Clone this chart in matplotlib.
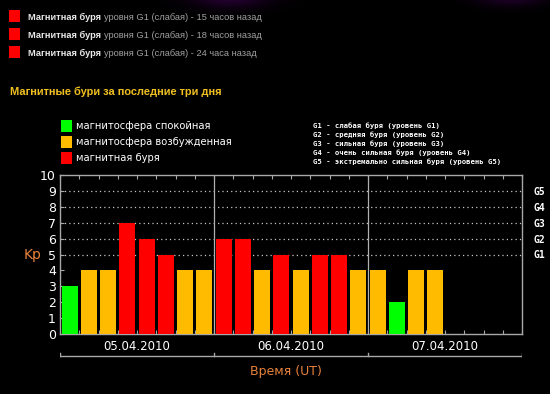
import numpy as np
import matplotlib
matplotlib.use('Agg')
import matplotlib.pyplot as plt
from matplotlib.patches import Rectangle

# Kp index, 8 three-hour intervals per day
kp_values = [3, 4, 4, 7, 6, 5, 4, 4,
             6, 6, 4, 5, 4, 5, 5, 4,
             4, 2, 4, 4]
days = ['05.04.2010', '06.04.2010', '07.04.2010']
g_labels = ['G1', 'G2', 'G3', 'G4', 'G5']
g_levels = [5, 6, 7, 8, 9]
storm_notes = ['15 часов назад', '18 часов назад', '24 часа назад']
legend_items = ['магнитосфера спокойная', 'магнитосфера возбужденная', 'магнитная буря']
g_legend = ['G1 - слабая буря (уровень G1)',
            'G2 - средняя буря (уровень G2)',
            'G3 - сильная буря (уровень G3)',
            'G4 - очень сильная буря (уровень G4)',
            'G5 - экстремально сильная буря (уровень G5)']

GREEN, ORANGE, RED = '#00ff00', '#ffbb00', '#ff0000'
W, H = 550, 394

def kp_color(v):
    if v < 4:
        return GREEN
    if v < 5:
        return ORANGE
    return RED

fig = plt.figure(figsize=(W / 100, H / 100), dpi=100, facecolor='black')
renderer = fig.canvas.get_renderer()

def px(x, y):
    # pixel coords (top-left origin) -> figure fraction
    return x / W, 1 - y / H

# faint purple glow at the top
glow = fig.add_axes([0, 0, 1, 1], zorder=-5)
glow.set_axis_off()
yy, xx = np.mgrid[0:H, 0:W]
g = np.exp(-(((xx - 230) / 40.0) ** 2 + ((yy + 5) / 12.0) ** 2)) * 0.35
g += np.exp(-(((xx - 510) / 35.0) ** 2 + ((yy + 5) / 10.0) ** 2)) * 0.3
img = np.zeros((H, W, 3))
img[..., 0] = g * 0.45
img[..., 2] = g * 0.6
glow.imshow(img, extent=(0, 1, 0, 1), aspect='auto')
glow.set_xlim(0, 1)
glow.set_ylim(0, 1)

# recent storm notices
for i, note in enumerate(storm_notes):
    y = 16 + i * 18
    x0, y0 = px(9, y + 6)
    fig.patches.append(Rectangle((x0, y0), 11 / W, 12 / H, transform=fig.transFigure,
                                 facecolor=RED, edgecolor='none'))
    t = fig.text(*px(28, y + 1), 'Магнитная буря', color='#e8e8e8', fontsize=6.7,
                 fontweight='bold', va='center', family='Liberation Sans')
    x_end = t.get_window_extent(renderer).x1
    fig.text(x_end / W + 3 / W, 1 - (y + 1) / H, 'уровня G1 (слабая) - ' + note,
             color='#a0a0a0', fontsize=6.7, va='center', family='Liberation Sans')

fig.text(*px(10, 92), 'Магнитные бури за последние три дня', color='#f0c020',
         fontsize=7.9, fontweight='bold', va='center', family='Liberation Sans')

# colour legend
for i, (lbl, c) in enumerate(zip(legend_items, [GREEN, ORANGE, RED])):
    y = 126 + i * 16
    x0, y0 = px(61, y + 6)
    fig.patches.append(Rectangle((x0, y0), 11 / W, 12 / H, transform=fig.transFigure,
                                 facecolor=c, edgecolor='none'))
    fig.text(*px(76, y), lbl, color='white', fontsize=7.2, va='center',
             family='DejaVu Sans')

for i, lbl in enumerate(g_legend):
    fig.text(*px(313, 126 + i * 9), lbl, color='white', fontsize=5.2, va='center',
             family='DejaVu Sans Mono', fontweight='bold')

# main chart
l, b = px(60, 334)
ax = fig.add_axes([l, b, 462 / W, 159 / H])
ax.set_facecolor('black')
n = 24
x = np.arange(len(kp_values))
ax.bar(x + 0.5, kp_values, width=0.84, color=[kp_color(v) for v in kp_values],
       zorder=3)
ax.set_xlim(0, n)
ax.set_ylim(0, 10)
for lvl in g_levels:
    ax.axhline(lvl, color='#c8c8c8', lw=0.9, ls=(0, (1, 2.5)), zorder=1)
for d in [8, 16]:
    ax.axvline(d, color='#b0b0b0', lw=0.9, zorder=2)

for s in ax.spines.values():
    s.set_color('#a8a8a8')
    s.set_linewidth(1.0)
ax.set_yticks(range(11))
ax.set_yticklabels([str(i) for i in range(11)])
ax.tick_params(axis='y', left=False, right=True, direction='in', length=3,
               labelsize=9, labelcolor='white', color='#a8a8a8', pad=3)
ax.set_xticks(range(n + 1))
ax.tick_params(axis='x', top=True, bottom=True, direction='in', length=3,
               labelbottom=False, color='#a8a8a8')
for lbl in ax.get_yticklabels():
    lbl.set_family('DejaVu Sans')

ay = ax.twinx()
ay.set_ylim(0, 10)
ay.set_yticks(g_levels)
ay.set_yticklabels(g_labels)
ay.tick_params(axis='y', right=False, labelsize=7, labelcolor='white', pad=5)
for lbl in ay.get_yticklabels():
    lbl.set_family('DejaVu Sans Mono')
    lbl.set_fontweight('bold')
for s in ay.spines.values():
    s.set_visible(False)

fig.text(*px(33, 255), 'Kp', color='#e8823a', fontsize=10, ha='center', va='center')

# day labels and bracket
for i, d in enumerate(days):
    fig.text(*px(60 + 154 * (i + 0.5), 346), d, color='white', fontsize=8.5,
             ha='center', va='center')
br = fig.add_axes([l, 0, 462 / W, 1], zorder=-1)
br.set_axis_off()
br.set_xlim(0, 3)
br.set_ylim(H, 0)
br.plot([0, 3], [356, 356], color='#a8a8a8', lw=1.0)
for d in range(4):
    br.plot([d, d], [352.5, 356], color='#a8a8a8', lw=1.0)

fig.text(*px(286, 372), 'Время (UT)', color='#e8823a', fontsize=9,
         ha='center', va='center')

fig.savefig('out.png', dpi=100, facecolor='black')
